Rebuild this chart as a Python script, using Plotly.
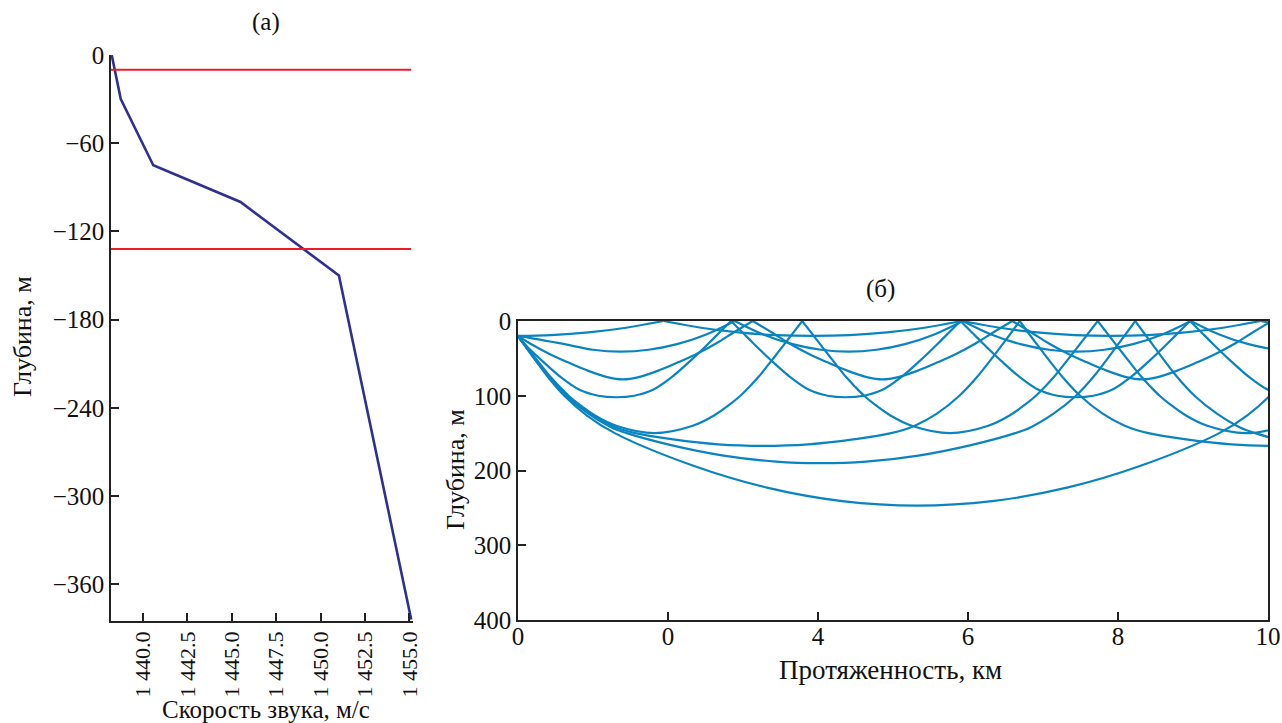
import plotly.graph_objects as go

W, H = 1282, 723

# ---------------- Panel (a): sound speed profile ----------------
speed = [1438.24, 1438.75, 1440.58, 1445.49, 1451.03, 1455.1]
depth_a = [0, -30, -75, -100, -150, -384]
red_levels = [-10, -132]
x_ticks_a = [1440.0, 1442.5, 1445.0, 1447.5, 1450.0, 1452.5, 1455.0]
x_ticktext_a = ["1 440.0", "1 442.5", "1 445.0", "1 447.5", "1 450.0", "1 452.5", "1 455.0"]
y_ticks_a = [0, -60, -120, -180, -240, -300, -360]

# ---------------- Panel (b): ray traces ----------------
# source depth (m)
source_depth = 20
# For every ray: half-arch shape
# (distance from a surface reflection in km -> depth in m, down to the turning depth)
# and the range (km) of the ray's first turning point.
ray_a_s = [0, 0.5, 1.0, 1.5, 1.99]
ray_a_d = [0, 9, 15.3, 18.9, 20]
ray_a_turn = -0.05

ray_b_s = [0, 0.38, 0.77, 1.15, 1.52]
ray_b_d = [0, 18, 31, 38.5, 41]
ray_b_turn = 1.37

ray_c_s = [0, 0.25, 0.49, 0.75, 0.99, 1.25, 1.52, 1.73]
ray_c_d = [0, 15, 30, 44, 55, 66, 75, 78]
ray_c_turn = 1.40

ray_d_s = [0, 0.15, 0.30, 0.55, 0.79, 1.04, 1.29, 1.53]
ray_d_d = [0, 15, 30, 54, 75, 92, 100, 102]
ray_d_turn = 1.31

ray_e_s = [0, 0.23, 0.41, 0.585, 0.705, 0.825, 0.97, 1.17, 1.47, 1.97]
ray_e_d = [0, 30, 53, 75, 88, 100, 112, 126, 140.5, 150]
ray_e_turn = 1.82

ray_f_s = [0, 0.22, 0.57, 0.805, 1.1, 1.4, 1.715, 2.22, 2.82, 3.42]
ray_f_d = [0, 30, 75, 100, 123.5, 140, 150, 158.4, 165, 167]
ray_f_turn = 3.27

ray_g_s = [0, 0.22, 0.56, 0.79, 1.09, 1.39, 1.6, 2.19, 2.89, 3.59, 4.19]
ray_g_d = [0, 30, 75, 100, 124, 142, 150, 166, 180, 188, 190]
ray_g_turn = 4.04

ray_h_s = [0, 0.21, 0.54, 0.757, 1.06, 1.43, 2.46, 3.46, 4.46, 5.46]
ray_h_d = [0, 30, 75, 100, 126.5, 150, 193, 223, 241, 247]
ray_h_turn = 5.32

rays = [
    (ray_a_s, ray_a_d, ray_a_turn),
    (ray_b_s, ray_b_d, ray_b_turn),
    (ray_c_s, ray_c_d, ray_c_turn),
    (ray_d_s, ray_d_d, ray_d_turn),
    (ray_e_s, ray_e_d, ray_e_turn),
    (ray_f_s, ray_f_d, ray_f_turn),
    (ray_g_s, ray_g_d, ray_g_turn),
    (ray_h_s, ray_h_d, ray_h_turn),
]

x_ticks_b = [0, 2, 4, 6, 8, 10]
x_ticktext_b = ["0", "0", "4", "6", "8", "10"]
y_ticks_b = [0, 100, 200, 300, 400]

FONT = "Liberation Serif"
BLUE = "#2e3192"
RED = "#ed1c24"
RAY = "#0a84c1"
X_MAX = 10.4


def px_x(p):
    return p / W


def px_y(p):
    return (H - p) / H


def assemble(prof_s, prof_d, turn):
    """Place the read half-arch shape along the range axis (mirror + shift)."""
    w = prof_s[-1]
    pts = list(zip(prof_s, prof_d))
    xs, ds = [0.0], [source_depth]
    # from the source down to the first turning point
    for s, d in pts:
        x = turn - (w - s)
        if x > 0.05 and d > source_depth:
            xs.append(x)
            ds.append(d)
    # up from the first turning point to the first surface reflection
    for s, d in reversed(pts[:-1]):
        x = turn + (w - s)
        if x > 0.05:
            xs.append(x)
            ds.append(d)
    xs.append(None)
    ds.append(None)
    cusp = turn + w
    while cusp < X_MAX:
        for s, d in pts:
            xs.append(cusp + s)
            ds.append(d)
        for s, d in reversed(pts[:-1]):
            xs.append(cusp + 2 * w - s)
            ds.append(d)
        xs.append(None)
        ds.append(None)
        cusp += 2 * w
    return xs, ds


fig = go.Figure()

fig.add_trace(go.Scatter(x=speed, y=depth_a, mode="lines",
                         line=dict(color=BLUE, width=2.6), xaxis="x", yaxis="y",
                         showlegend=False, hoverinfo="skip"))
for lvl in red_levels:
    fig.add_trace(go.Scatter(x=[1438.2, 1455.1], y=[lvl, lvl], mode="lines",
                             line=dict(color=RED, width=2), xaxis="x", yaxis="y",
                             showlegend=False, hoverinfo="skip"))

for prof_s, prof_d, turn in rays:
    xs, ds = assemble(prof_s, prof_d, turn)
    fig.add_trace(go.Scatter(x=xs, y=ds, mode="lines", connectgaps=False,
                             line=dict(color=RAY, width=2.2, shape="spline", smoothing=1.0),
                             xaxis="x2", yaxis="y2", showlegend=False, hoverinfo="skip",
                             cliponaxis=True))

axis_common = dict(showgrid=False, zeroline=False, showline=True, linecolor="#222",
                   linewidth=1.5, ticks="inside", ticklen=8, tickcolor="#222", tickwidth=1.5,
                   automargin=False)

fig.update_layout(
    template="none",
    width=W, height=H,
    margin=dict(l=0, r=0, t=0, b=0, pad=0, autoexpand=False),
    paper_bgcolor="white", plot_bgcolor="white",
    font=dict(family=FONT, color="#111", size=24),
    xaxis=dict(domain=[px_x(111), px_x(413)], range=[1438.2, 1455.2], anchor="y",
               tickvals=x_ticks_a, ticktext=x_ticktext_a, tickangle=-90,
               tickfont=dict(family=FONT, size=22, color="#111"), **axis_common),
    yaxis=dict(domain=[px_y(621), px_y(55)], range=[-385, 0], anchor="x",
               tickvals=y_ticks_a, tickfont=dict(family=FONT, size=25, color="#111"),
               **axis_common),
    xaxis2=dict(domain=[px_x(518), px_x(1268)], range=[0, 10], anchor="y2",
                tickvals=x_ticks_b, ticktext=x_ticktext_b, mirror=True,
                ticklabelstandoff=-7,
                tickfont=dict(family=FONT, size=25, color="#111"), **axis_common),
    yaxis2=dict(domain=[px_y(620), px_y(321)], range=[400, 0], anchor="x2",
                tickvals=y_ticks_b, mirror=True,
                tickfont=dict(family=FONT, size=25, color="#111"), **axis_common),
)

ann = [
    dict(text="(a)", x=px_x(266), y=px_y(22), size=25, angle=0),
    dict(text="(б)", x=px_x(880), y=px_y(289), size=25, angle=0),
    dict(text="Скорость звука, м/с", x=px_x(266), y=px_y(709), size=25, angle=0),
    dict(text="Глубина, м", x=px_x(22), y=px_y(337), size=26, angle=-90),
    dict(text="Глубина, м", x=px_x(455), y=px_y(470), size=26, angle=-90),
    dict(text="Протяженность, км", x=px_x(890), y=px_y(670), size=27, angle=0),
]
for a in ann:
    fig.add_annotation(text=a["text"], x=a["x"], y=a["y"], xref="paper", yref="paper",
                       xanchor="center", yanchor="middle", showarrow=False,
                       textangle=a["angle"], font=dict(family=FONT, size=a["size"], color="#111"))

fig.write_html("out.html",
               config={"displayModeBar": False},
               post_script="document.body.style.margin='0';document.body.style.overflow='hidden';")
